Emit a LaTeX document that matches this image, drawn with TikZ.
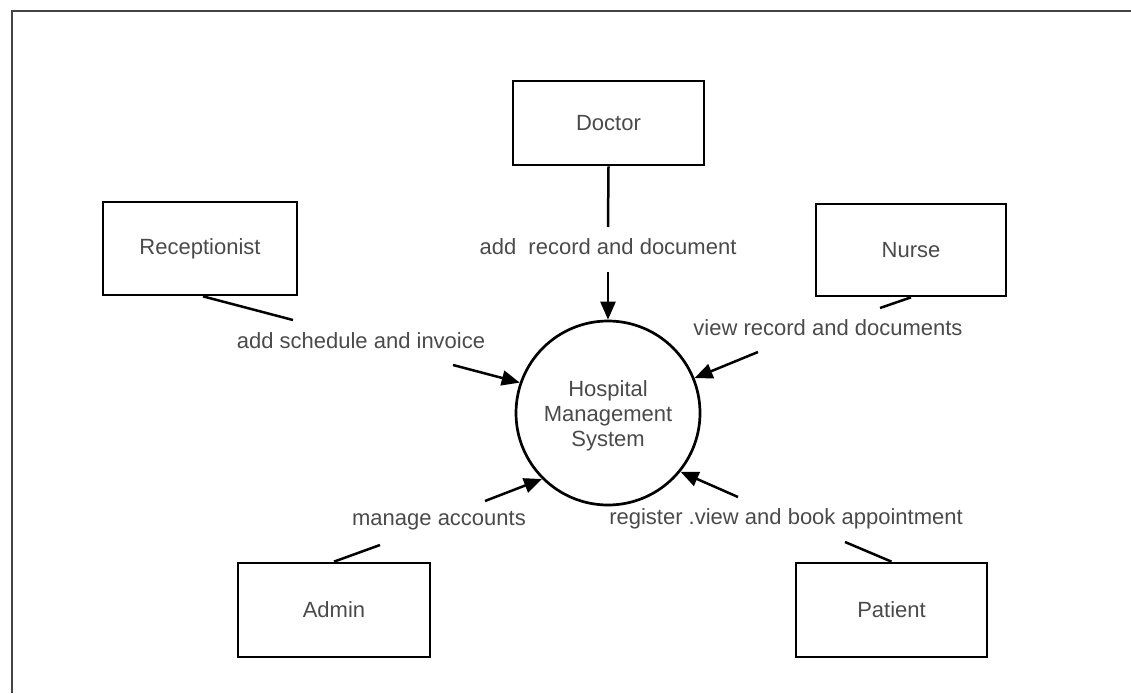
\documentclass[tikz,border=0pt]{standalone}
\usepackage{fontspec}
\setmainfont{Liberation Sans}
\usetikzlibrary{arrows.meta}
\definecolor{txt}{HTML}{4A4A4A}
\definecolor{frame}{HTML}{444444}
\begin{document}
\begin{tikzpicture}[x=1pt,y=-1pt,
  every node/.style={font=\fontsize{22}{25}\selectfont, text=txt},
  entity/.style={draw=black, line width=2.7pt, inner sep=0pt},
  proc/.style={draw=black, circle, line width=2.7pt, inner sep=0pt, minimum size=184pt},
  lbl/.style={inner sep=1pt},
  link/.style={draw=black, line width=2.5pt},
  flow/.style={draw=black, line width=2.5pt, -{Triangle[length=18pt,width=15pt]}}]
\useasboundingbox (0,0) rectangle (1131,693);
\draw[frame, line width=2pt] (12,693) -- (12,11) -- (1131,11);

\node[entity, minimum width=191pt, minimum height=84pt] (doc) at (608.5,123) {Doctor};
\node[entity, minimum width=194pt, minimum height=93pt] (rec) at (200,248.5) {Receptionist};
\node[entity, minimum width=190pt, minimum height=92pt] (nur) at (911,250) {Nurse};
\node[entity, minimum width=192pt, minimum height=94pt] (adm) at (334,610) {Admin};
\node[entity, minimum width=191pt, minimum height=94pt] (pat) at (891.5,610) {Patient};

\node[proc] (hms) at (608,413) {};
\node[align=center, inner sep=0pt] (hmst) at (608,416) {Hospital\\Management\\System};

\node[lbl] (ldoc) at (608,247) {add\ \ record and document};
\node[lbl] (lrec) at (361,341) {add schedule and invoice};
\node[lbl] (lnur) at (828,328) {view record and documents};
\node[lbl] (ladm) at (439,521) {manage accounts};
\node[lbl] (lpat) at (786,519) {register .view and book appointment};

\coordinate (d1) at (608,227);
\coordinate (d2) at (608,272);
\coordinate (r1) at (293,320);
\coordinate (r2) at (453,365);
\coordinate (n1) at (880,308);
\coordinate (n2) at (758,352);
\coordinate (a1) at (380,545);
\coordinate (a2) at (485,501);
\coordinate (p1) at (845,542);
\coordinate (p2) at (738,497);

\draw[link] (doc.south) -- (d1);
\draw[flow] (d2) -- (hms.90);
\draw[link] ([xshift=3pt]rec.south) -- (r1);
\draw[flow] (r2) -- (hms.161);
\draw[link] (nur.south) -- (n1);
\draw[flow] (n2) -- (hms.22);
\draw[link] (adm.north) -- (a1);
\draw[flow] (a2) -- (hms.225);
\draw[link] (pat.north) -- (p1);
\draw[flow] (p2) -- (hms.321);
\end{tikzpicture}
\end{document}
